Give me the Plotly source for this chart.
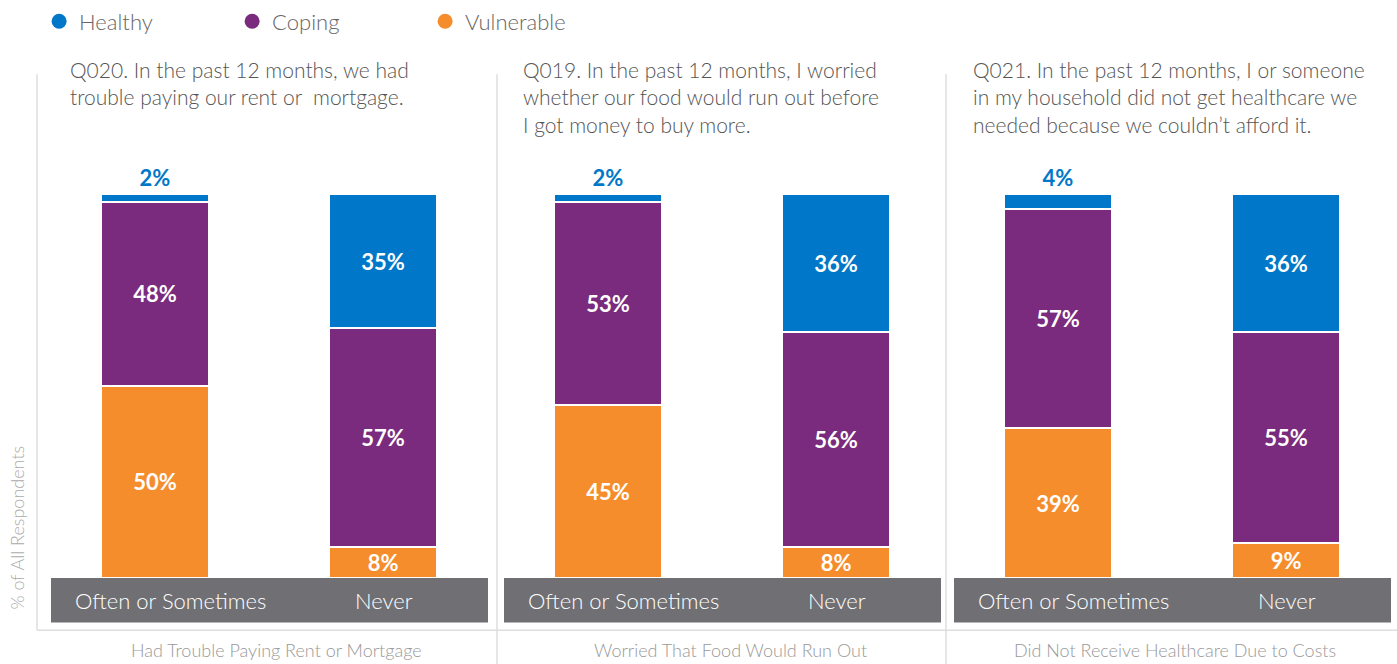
import plotly.graph_objects as go

panels = ["Had Trouble Paying Rent or Mortgage",
          "Worried That Food Would Run Out",
          "Did Not Receive Healthcare Due to Costs"]
questions = ["Q020. In the past 12 months, we had<br>trouble paying our rent or  mortgage.",
             "Q019. In the past 12 months, I worried<br>whether our food would run out before<br>I got money to buy more.",
             "Q021. In the past 12 months, I or someone<br>in my household did not get healthcare we<br>needed because we couldn’t afford it."]
categories = ["Often or Sometimes", "Never"]
healthy = [[2, 35], [2, 36], [4, 36]]
coping = [[48, 57], [53, 56], [57, 55]]
vulnerable = [[50, 8], [45, 8], [39, 9]]

C_H, C_C, C_V = "#0077C8", "#7A2B7E", "#F68D2C"
BAND = "#706F74"
W, H = 1397, 664
FONT = "Lato"
LIGHT = 300

fig = go.Figure()

panel_px = [(51, 488), (504, 941), (954, 1391)]
label_cx = [276, 730, 1175]
y_top_px, y_zero_px = 189, 577
ydom = [(H - y_zero_px) / H, (H - y_top_px) / H]

for i in range(3):
    xa = "x" if i == 0 else f"x{i+1}"
    ya = "y" if i == 0 else f"y{i+1}"
    series = [("Vulnerable", vulnerable[i], C_V), ("Coping", coping[i], C_C), ("Healthy", healthy[i], C_H)]
    for name, vals, col in series:
        if name == "Healthy":
            pos = ["outside" if v < 5 else "inside" for v in vals]
        else:
            pos = "inside"
        fig.add_trace(go.Bar(
            x=categories, y=vals, name=name, xaxis=xa, yaxis=ya,
            marker=dict(color=col, line=dict(color="white", width=2)),
            width=0.47, showlegend=False,
            text=[f"{v}%" for v in vals], textposition=pos,
            insidetextanchor="middle", constraintext="none",
            insidetextfont=dict(color="white", size=22, family=FONT, weight="bold"),
            outsidetextfont=dict(color=col, size=22, family=FONT, weight="bold"),
            cliponaxis=False, hoverinfo="skip",
        ))

for name, col in [("Healthy", C_H), ("Coping", C_C), ("Vulnerable", C_V)]:
    fig.add_trace(go.Scatter(x=[None], y=[None], mode="markers", name=name,
                             marker=dict(color=col, size=15, symbol="circle")))

layout = dict(
    width=W, height=H, margin=dict(l=0, r=0, t=0, b=0),
    barmode="stack", plot_bgcolor="white", paper_bgcolor="white",
    font=dict(family=FONT, color="#666"),
    legend=dict(orientation="h", x=0.028, y=1.01, xanchor="left", yanchor="top",
                traceorder="normal",
                font=dict(size=22, color="#666", family=FONT, weight=LIGHT),
                entrywidth=148, itemwidth=30, bgcolor="rgba(0,0,0,0)"),
)
for i, (a, b) in enumerate(panel_px):
    k = "" if i == 0 else str(i + 1)
    layout[f"xaxis{k}"] = dict(domain=[a / W, b / W], range=[-0.456, 1.46],
                               showticklabels=False, showgrid=False, zeroline=False,
                               showline=False, fixedrange=True)
    layout[f"yaxis{k}"] = dict(domain=ydom, range=[0, 100], showticklabels=False,
                               showgrid=False, zeroline=False, showline=False,
                               anchor=f"x{k}", fixedrange=True)
fig.update_layout(**layout)

shapes = []
annotations = []
line_col = "#DEDEDE"
shapes.append(dict(type="line", xref="paper", yref="paper", x0=37 / W, x1=37 / W,
                   y0=(H - 630) / H, y1=(H - 68) / H, line=dict(color=line_col, width=1.5)))
for xs in (497, 946):
    shapes.append(dict(type="line", xref="paper", yref="paper", x0=xs / W, x1=xs / W,
                       y0=0, y1=(H - 68) / H, line=dict(color=line_col, width=1.5)))
shapes.append(dict(type="line", xref="paper", yref="paper", x0=37 / W, x1=1.0,
                   y0=(H - 630) / H, y1=(H - 630) / H, line=dict(color=line_col, width=1.5)))

for i, (a, b) in enumerate(panel_px):
    k = "" if i == 0 else str(i + 1)
    shapes.append(dict(type="rect", xref="paper", yref="paper", x0=a / W, x1=b / W,
                       y0=(H - 622) / H, y1=(H - 577) / H, fillcolor=BAND,
                       line=dict(width=0), layer="above"))
    for j, cat in enumerate(categories):
        annotations.append(dict(x=cat, xref=f"x{k}", y=(H - 600) / H, yref="paper",
                                text=cat, showarrow=False, xanchor="center", yanchor="middle",
                                xshift=15 if j == 0 else 1,
                                font=dict(size=22, color="white", family=FONT, weight=LIGHT)))
    annotations.append(dict(x=(a + 17) / W, xref="paper", y=(H - 49) / H, yref="paper",
                            text=questions[i], showarrow=False, xanchor="left", yanchor="top",
                            align="left", font=dict(size=21, color="#555", family=FONT, weight=LIGHT)))
    annotations.append(dict(x=label_cx[i] / W, xref="paper", y=(H - 650) / H, yref="paper",
                            text=panels[i], showarrow=False, xanchor="center", yanchor="middle",
                            font=dict(size=18, color="#999", family=FONT, weight=LIGHT)))

annotations.append(dict(x=17 / W, xref="paper", y=(H - 526) / H, yref="paper",
                        text="% of All Respondents", textangle=-90, showarrow=False,
                        xanchor="center", yanchor="middle",
                        font=dict(size=18, color="#AAA", family=FONT, weight=LIGHT)))

fig.update_layout(shapes=shapes, annotations=annotations)
fig.write_html("out.html", config={"displayModeBar": False})

with open("out.html", "r", encoding="utf-8") as f:
    html = f.read()
html = html.replace("<head>", "<head><style>html,body{margin:0;padding:0;overflow:hidden;}</style>", 1)
with open("out.html", "w", encoding="utf-8") as f:
    f.write(html)
